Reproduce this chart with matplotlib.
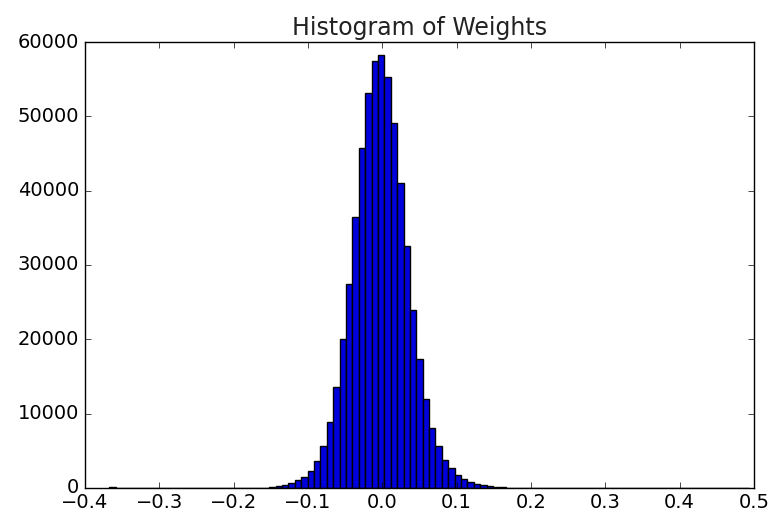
import numpy as np
import matplotlib
matplotlib.use('Agg')
import matplotlib.pyplot as plt

# Histogram of network weights (100 bins), counts
bin_start = -0.367
bin_width = 0.0086
n_bins = 100

counts = np.zeros(n_bins)
counts[0] = 150          # small outlier bump near -0.36
counts[25:63] = [100, 200, 330, 600, 1000, 1500, 2300, 3600, 5700, 8800,
                 13600, 20000, 27500, 36500, 45700, 53200, 57500, 58300,
                 55300, 49100, 41000, 32500, 24000, 17300, 12000, 8000,
                 5600, 3800, 2650, 1750, 1200, 850, 540, 360, 250, 150,
                 80, 40]
counts[99] = 3           # a few large weights near 0.49

edges = bin_start + bin_width * np.arange(n_bins + 1)

plt.style.use('classic')
fig = plt.figure(figsize=(7.71, 5.13), dpi=100)
ax = fig.add_axes([0.110, 0.049, 0.868, 0.869])

ax.hist(edges[:-1], bins=edges, weights=counts, color='#0000dd')
ax.set_xlim(-0.4, 0.5)
ax.set_ylim(0, 60000)
ax.tick_params(labelsize=14)
ax.set_title('Histogram of Weights', fontsize=17, color='#222222')

fig.savefig('out.png', dpi=100)
